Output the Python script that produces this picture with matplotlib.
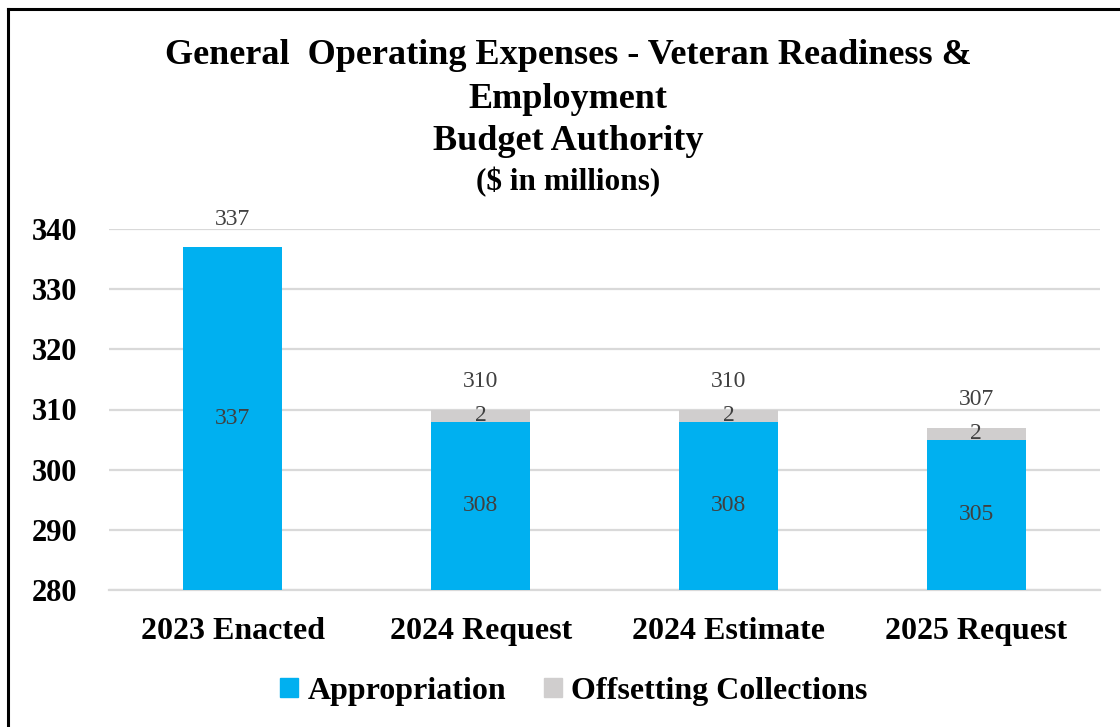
import numpy as np
import matplotlib
matplotlib.use('Agg')
import matplotlib.pyplot as plt
from matplotlib.lines import Line2D
from matplotlib.patches import Patch

# budget figures, $ in millions
categories = ['2023 Enacted', '2024 Request', '2024 Estimate', '2025 Request']
appropriation = [337, 308, 308, 305]
offsetting = [0, 2, 2, 2]
totals = [337, 310, 310, 307]

blue = '#00B0F0'
grey = '#D0CECE'
label_col = '#404040'

plt.rcParams['font.family'] = ['Liberation Serif', 'DejaVu Serif']

fig = plt.figure(figsize=(11.2, 7.27), dpi=100)
ax = fig.add_axes([109 / 1120, 1 - 590 / 727, (1100 - 109) / 1120, (590 - 229) / 727])

x = np.arange(len(categories))
w = 0.4
b1 = ax.bar(x, appropriation, w, color=blue, zorder=3)
b2 = ax.bar(x, offsetting, w, bottom=appropriation, color=grey, zorder=3)

ax.set_ylim(280, 340)
ax.set_xlim(-0.5, len(categories) - 0.5)
ax.set_yticks(range(280, 341, 10))
ax.grid(axis='y', color='#D9D9D9', linewidth=1.6, zorder=0)
for s in ['top', 'right', 'left']:
    ax.spines[s].set_visible(False)
ax.spines['bottom'].set_color('#D9D9D9')
ax.spines['bottom'].set_linewidth(1.6)
ax.tick_params(axis='both', length=0)
ax.tick_params(axis='y', pad=23, labelsize=22)
ax.tick_params(axis='x', pad=19.5, labelsize=23)
ax.set_xticks(x)
ax.set_xticklabels(categories, fontweight='bold')
for t in ax.get_yticklabels():
    t.set_fontweight('bold')

# segment labels, centred in each visible piece
for i in range(len(categories)):
    mid = (280 + appropriation[i]) / 2
    ax.text(x[i], mid, str(appropriation[i]), ha='center', va='center',
            fontsize=17, color=label_col, zorder=4)
    if offsetting[i]:
        ax.text(x[i], appropriation[i] + offsetting[i] / 2, str(offsetting[i]),
                ha='center', va='center', fontsize=17, color=label_col, zorder=4)
    ax.annotate(str(totals[i]), (x[i], totals[i]), xytext=(0, 20),
                textcoords='offset points', ha='center', va='center',
                fontsize=17, color=label_col, annotation_clip=False)

# title block
cx = 568 / 1120
fig.text(cx, 1 - 55 / 727, 'General  Operating Expenses - Veteran Readiness &',
         ha='center', va='center', fontsize=26, fontweight='bold')
fig.text(cx, 1 - 99 / 727, 'Employment', ha='center', va='center',
         fontsize=26, fontweight='bold')
fig.text(cx, 1 - 141 / 727, 'Budget Authority', ha='center', va='center',
         fontsize=26, fontweight='bold')
fig.text(cx, 1 - 182 / 727, '($ in millions)', ha='center', va='center',
         fontsize=22.5, fontweight='bold')

handles = [Patch(color=blue, label='Appropriation'),
           Patch(color=grey, label='Offsetting Collections')]
fig.legend(handles=handles, loc='center', bbox_to_anchor=(574 / 1120, 1 - 691 / 727),
           ncol=2, frameon=False, prop={'size': 23, 'weight': 'bold'},
           handlelength=0.55, handleheight=0.55, handletextpad=0.3, columnspacing=1.2)

# outer frame, left and top edges
lw = 2.2
fig.add_artist(Line2D([8 / 1120, 8 / 1120], [0, 1 - 9 / 727], transform=fig.transFigure,
                      color='black', linewidth=lw))
fig.add_artist(Line2D([8 / 1120, 1], [1 - 9 / 727, 1 - 9 / 727], transform=fig.transFigure,
                      color='black', linewidth=lw))

fig.savefig('out.png', dpi=100)
